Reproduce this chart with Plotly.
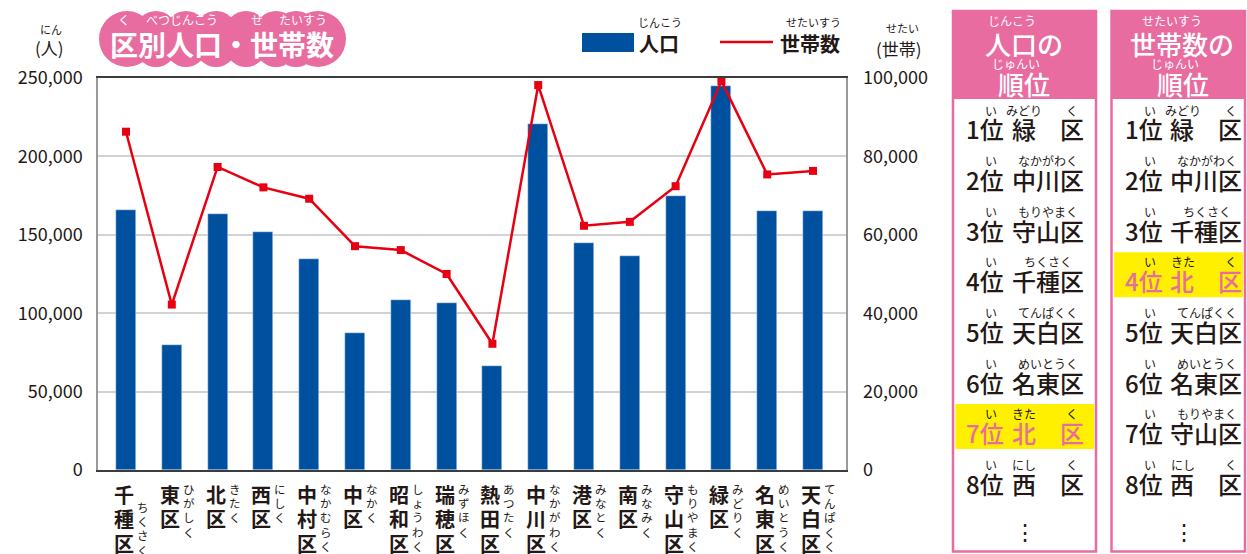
import plotly.graph_objects as go

# ---------------- data ----------------
districts = ["千種区", "東区", "北区", "西区", "中村区", "中区", "昭和区", "瑞穂区",
             "熱田区", "中川区", "港区", "南区", "守山区", "緑区", "名東区", "天白区"]
readings = ["ちくさく", "ひがしく", "きたく", "にしく", "なかむらく", "なかく", "しょうわく", "みずほく",
            "あつたく", "なかがわく", "みなとく", "みなみく", "もりやまく", "みどりく", "めいとうく", "てんぱくく"]
population = [166000, 79500, 163500, 151700, 134400, 87200, 108200, 106300,
              66100, 220600, 144600, 136300, 174600, 244900, 165000, 165200]
households = [86300, 42200, 77300, 72100, 69200, 57100, 56100, 50000,
              32200, 98200, 62300, 63300, 72400, 99200, 75400, 76300]
left_ticks = [0, 50000, 100000, 150000, 200000, 250000]
right_ticks = [0, 20000, 40000, 60000, 80000, 100000]
pop_rank = ["緑区", "中川区", "守山区", "千種区", "天白区", "名東区", "北区", "西区"]
hh_rank = ["緑区", "中川区", "千種区", "北区", "天白区", "名東区", "守山区", "西区"]
highlight = "北区"

# ---------------- style ----------------
FONT = "Noto Sans CJK JP"
DARK = "#231815"
PINK = "#E96CA0"
BLUE = "#0050A0"
RED = "#E60012"
YELLOW = "#FFF000"
W, H = 1247, 554
# plot area in page pixels
L, R, T, B = 98, 846, 78, 470


def px(x):
    return (x - L) / (R - L)


def py(y):
    return (B - y) / (B - T)


fig = go.Figure()
fig.add_trace(go.Bar(x=districts, y=population, name="人口", marker_color=BLUE,
                     width=0.437, yaxis="y"))
fig.add_trace(go.Scatter(x=districts, y=households, name="世帯数", yaxis="y2",
                         mode="lines+markers",
                         line=dict(color=RED, width=2.5),
                         marker=dict(symbol="square", size=8, color=RED)))

shapes = []
ann = []


def text(x, y, s, size, color=DARK, weight="normal", xanchor="center", xref="paper", xshift=0):
    ann.append(dict(x=x if xref != "paper" else px(x), y=py(y), xref=xref, yref="paper",
                    text=s, showarrow=False, xanchor=xanchor, yanchor="middle", xshift=xshift,
                    font=dict(family=FONT, size=size, color=color, weight=weight)))


def rect(x0, y0, x1, y1, fill=None, line=None, lw=0, layer="above"):
    shapes.append(dict(type="rect", xref="paper", yref="paper",
                       x0=px(x0), x1=px(x1), y0=py(y1), y1=py(y0),
                       fillcolor=fill if fill else "rgba(0,0,0,0)",
                       line=dict(color=line if line else "rgba(0,0,0,0)", width=lw),
                       layer=layer))


def circle(cx, cy, r, fill):
    shapes.append(dict(type="circle", xref="paper", yref="paper",
                       x0=px(cx - r), x1=px(cx + r), y0=py(cy + r), y1=py(cy - r),
                       fillcolor=fill, line=dict(width=0)))


# ---------------- title bubble ----------------
circle(127, 39, 28, PINK)
circle(318, 39, 28, PINK)
rect(127, 18, 318, 60, fill=PINK)
for cx in [156, 186, 216, 246, 276, 296]:
    circle(cx, 32, 21, PINK)
    circle(cx, 46, 21, PINK)
text(222, 44, "区別人口・世帯数", 28, "white", "bold")
text(124, 20, "く", 12, "white")
text(182, 20, "べつじんこう", 12, "white")
text(257, 20, "せ", 12, "white")
text(303, 20, "たいすう", 12, "white")

# ---------------- axis titles ----------------
text(51, 29, "にん", 11)
text(50, 47, "(人)", 17)
text(902, 28, "せたい", 11)
text(899, 48, "(世帯)", 17)

# ---------------- legend ----------------
rect(582, 33, 634, 52, fill=BLUE)
text(659, 43, "人口", 20, DARK, "bold")
text(660, 22, "じんこう", 11)
shapes.append(dict(type="line", xref="paper", yref="paper", x0=px(720), x1=px(773),
                   y0=py(42), y1=py(42), line=dict(color=RED, width=2.5)))
text(810, 43, "世帯数", 20, DARK, "bold")
text(813, 22, "せたいすう", 11)

# ---------------- vertical category labels ----------------
for name, read in zip(districts, readings):
    for j, ch in enumerate(name):
        text(name, 494 + j * 24.5, ch, 20, DARK, "bold", xref="x", xshift=-2)
    start = 507 if name == "千種区" else 489
    for j, ch in enumerate(read):
        text(name, start + j * 14.2, ch, 11.5, DARK, xref="x", xshift=17)

# ---------------- ranking panels ----------------
panels = [(0, pop_rank, "人口の", "じんこう", 1024, 1012),
          (158.5, hh_rank, "世帯数の", "せたいすう", 1023.5, 1013.5)]
for off, ranking, head, head_furi, hx, hfx in panels:
    right = 1096 + off if off == 0 else 1245
    rect(953 + off, 11, right, 99, fill=PINK, layer="below")
    rect(953 + off, 11, right, 551.5, line=PINK, lw=2.5)
    text(hx + off, 43, head, 26, "white", 500)
    text(hfx + off, 21, head_furi, 12, "white")
    text(1016 + off, 63, "じゅんい", 12, "white")
    text(1024 + off, 83, "順位", 26, "white", 500)
    for k, name in enumerate(ranking):
        y = 129 + k * 50.6
        col = PINK if name == highlight else DARK
        if name == highlight:
            rect(955.5 + off, y - 28.5, right - 2, y + 16.5, fill=YELLOW, layer="below")
        text(985 + off, y, f"{k + 1}位", 24, col, 500)
        shown = name[0] + "　" + name[1] if len(name) == 2 else name
        text(1047.5 + off, y, shown, 24, col, 500)
        text(991 + off, y - 19, "い", 12)
        rd = readings[districts.index(name)]
        if len(name) == 2:
            text(1024 + off, y - 19, rd[:-1], 12)
            text(1072 + off, y - 19, rd[-1], 12)
        else:
            text(1048 + off, y - 19, rd, 12)
    text(1025 + off, 530, "⋮", 22)

fig.update_layout(
    width=W, height=H,
    margin=dict(l=L, r=W - R, t=T, b=H - B, pad=0),
    paper_bgcolor="white", plot_bgcolor="white",
    showlegend=False, bargap=0,
    font=dict(family=FONT, color=DARK),
    xaxis=dict(range=[-0.611, 15.72], showticklabels=False, ticks="",
               showline=True, linecolor="#3c3c3c", linewidth=2, mirror=True,
               showgrid=False, zeroline=False),
    yaxis=dict(range=[0, 250000], tickvals=left_ticks, tickformat=",",
               showgrid=True, gridcolor="#d2d2d2", gridwidth=1.5,
               showline=True, linecolor="#9a9a9a", linewidth=1.5, mirror=True,
               zeroline=False, ticks="", ticklabelstandoff=10,
               tickfont=dict(family=FONT, size=18, color=DARK)),
    yaxis2=dict(range=[0, 100000], tickvals=right_ticks, tickformat=",",
                overlaying="y", side="right", showgrid=False, zeroline=False,
                showline=False, ticks="", ticklabelstandoff=16,
                tickfont=dict(family=FONT, size=18, color=DARK)),
    shapes=shapes, annotations=ann,
)

fig.write_html("out.html", config={"displayModeBar": False},
               post_script="document.body.style.margin='0';document.body.style.overflow='hidden';")
